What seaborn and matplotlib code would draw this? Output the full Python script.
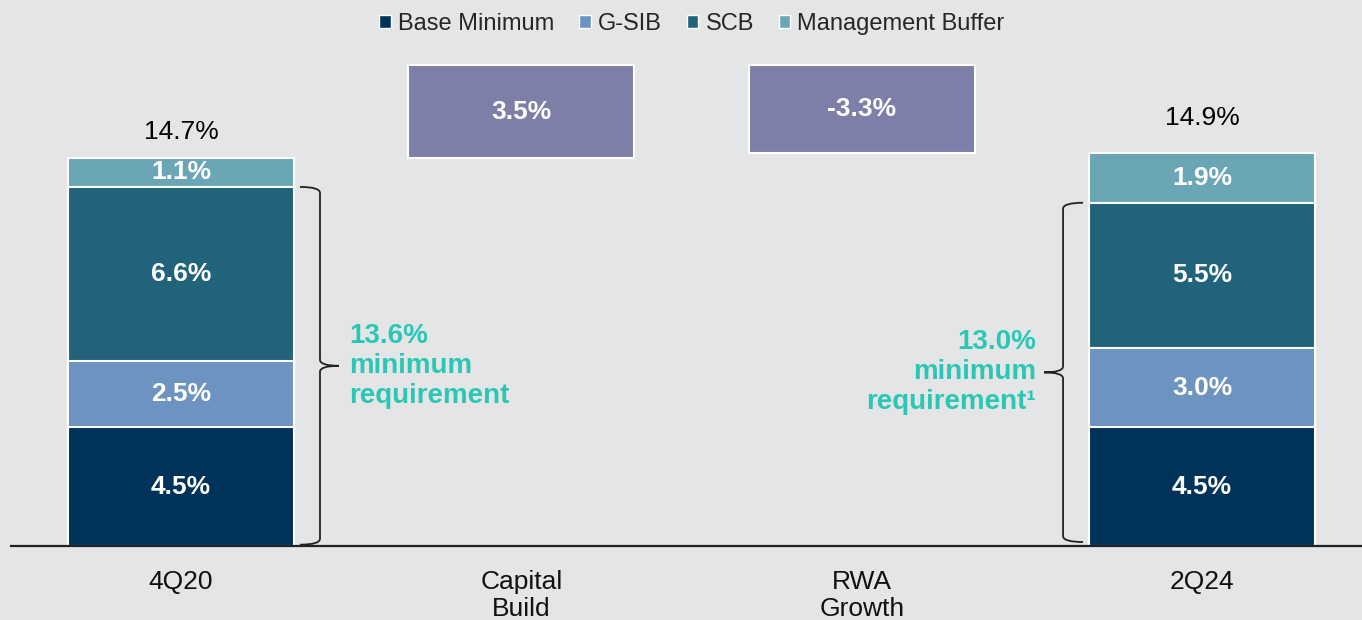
"""
CET1 capital walk 4Q20 -> 2Q24, stacked requirement bars with floating walk bars
"""

import numpy as np
import pandas as pd
import matplotlib
matplotlib.use("Agg")
import matplotlib.pyplot as plt
from matplotlib.patches import Patch, PathPatch
from matplotlib.path import Path
import seaborn as sns

# Data
categories = ["4Q20", "Capital\nBuild", "RWA\nGrowth", "2Q24"]
components = ["Base Minimum", "G-SIB", "SCB", "Management Buffer"]
stack_periods = ["4Q20", "2Q24"]
base_min = [4.5, 4.5]
gsib = [2.5, 3.0]
scb = [6.6, 5.5]
mgmt_buffer = [1.1, 1.9]
totals = [14.7, 14.9]
walk_steps = ["Capital\nBuild", "RWA\nGrowth"]
walk_values = [3.5, -3.3]
min_req = [13.6, 13.0]
min_req_labels = ["13.6%\nminimum\nrequirement", "13.0%\nminimum\nrequirement\u00b9"]

# Style
BG = "#e4e5e7"
COLORS = ["#00335a", "#6d93c1", "#21637a", "#6aa6b6"]
WALK_COLOR = "#7e7fa8"
TEAL = "#2cc6b5"

sns.set_theme(style="white")
plt.rcParams["font.family"] = ["Liberation Sans", "DejaVu Sans"]

fig = plt.figure(figsize=(13.62, 6.2), dpi=100, facecolor=BG)
ax = fig.add_axes([11 / 1362, 74 / 620, 1351 / 1362, 546 / 620])
ax.set_facecolor(BG)

# stacked bars drawn as overlapping cumulative sums (largest first)
layers = np.cumsum(np.array([base_min, gsib, scb, mgmt_buffer]), axis=0)
bar_width = 0.664
for i in range(len(components) - 1, -1, -1):
    df = pd.DataFrame({"period": stack_periods, "value": layers[i]})
    sns.barplot(data=df, x="period", y="value", order=categories, color=COLORS[i],
                width=bar_width, edgecolor="white", linewidth=1.5, saturation=1,
                ax=ax, zorder=2)

# floating walk bars
level = totals[0]
for step, val in zip(walk_steps, walk_values):
    xpos = categories.index(step)
    if val > 0:
        lo, hi = level, level + val
        level = hi
    else:
        lo, hi = level + val, level
    ax.bar(xpos, hi - lo, bottom=lo, width=bar_width, color=WALK_COLOR,
           edgecolor="white", linewidth=1.5, zorder=2)
    ax.text(xpos, (lo + hi) / 2, f"{val:.1f}%", ha="center", va="center", color="white",
            fontsize=19, fontweight="bold", zorder=3)

ax.set_xlim(-0.4995, 3.47)
ax.set_ylim(0, 20.68)

# segment labels
stack_vals = [base_min, gsib, scb, mgmt_buffer]
total_offsets = [10, 16]
for j, period in enumerate(stack_periods):
    xpos = categories.index(period)
    bottom = 0
    for vals in stack_vals:
        h = vals[j]
        ax.text(xpos, bottom + h / 2, f"{h:.1f}%", ha="center", va="center",
                color="white", fontsize=19, fontweight="bold", zorder=3)
        bottom += h
    ax.annotate(f"{totals[j]:.1f}%", (xpos, totals[j]), xytext=(0, total_offsets[j]),
                textcoords="offset points", ha="center", va="bottom",
                fontsize=19, color="black")


# curly braces for minimum requirement
def draw_brace(ax, x_edge, y0, y1, side):
    inv = ax.transData.inverted()
    p0 = ax.transData.transform((0, 0))
    px = inv.transform(p0 + np.array([1, 0]))[0] - inv.transform(p0)[0]
    py = inv.transform(p0 + np.array([0, 1]))[1] - inv.transform(p0)[1]
    s = 1 if side == "right" else -1
    xh = x_edge + s * 6 * px
    xs = x_edge + s * 26 * px
    xt = x_edge + s * 45 * px
    r = 6 * py
    ym = (y0 + y1) / 2
    verts = [(xh, y1), (xs, y1), (xs, y1 - r),
             (xs, ym + r), (xs, ym), (xt, ym),
             (xs, ym), (xs, ym - r),
             (xs, y0 + r), (xs, y0), (xh, y0)]
    codes = [Path.MOVETO, Path.CURVE3, Path.CURVE3,
             Path.LINETO, Path.CURVE3, Path.CURVE3,
             Path.CURVE3, Path.CURVE3,
             Path.LINETO, Path.CURVE3, Path.CURVE3]
    ax.add_patch(PathPatch(Path(verts, codes), facecolor="none", edgecolor="#222222",
                           linewidth=1.3, zorder=3, clip_on=False))
    return xt, ym, px


for j, period in enumerate(stack_periods):
    xpos = categories.index(period)
    if j == 0:
        xt, ym, px = draw_brace(ax, xpos + bar_width / 2, 0.05, min_req[j], "right")
        ax.text(xt + 10 * px, ym, min_req_labels[j], ha="left", va="center",
                color=TEAL, fontsize=20, fontweight="bold", linespacing=1.2)
    else:
        xt, ym, px = draw_brace(ax, xpos - bar_width / 2, 0.15, min_req[j], "left")
        ax.text(xt - 8 * px, ym, min_req_labels[j], ha="right", va="center",
                color=TEAL, fontsize=20, fontweight="bold", linespacing=1.2,
                multialignment="right")

# axes cosmetics
ax.set_xticks(range(len(categories)))
ax.set_xticklabels(categories, fontsize=19, color="#111111", linespacing=1.17)
ax.tick_params(axis="x", length=0, pad=17)
ax.set_yticks([])
ax.set_xlabel("")
ax.set_ylabel("")
for sp in ["top", "left", "right"]:
    ax.spines[sp].set_visible(False)
ax.spines["bottom"].set_color("#222222")
ax.spines["bottom"].set_linewidth(1.6)
ax.spines["bottom"].set_zorder(4)

handles = [Patch(facecolor=c, edgecolor="white", linewidth=1.0, label=l)
           for c, l in zip(COLORS, components)]
fig.legend(handles=handles, loc="center", bbox_to_anchor=(0.508, 1 - 24 / 620), ncol=4,
           frameon=False, fontsize=17, handlelength=0.5, handleheight=0.5,
           handletextpad=0.3, columnspacing=1.05)

fig.savefig("out.png", dpi=100, facecolor=BG)
